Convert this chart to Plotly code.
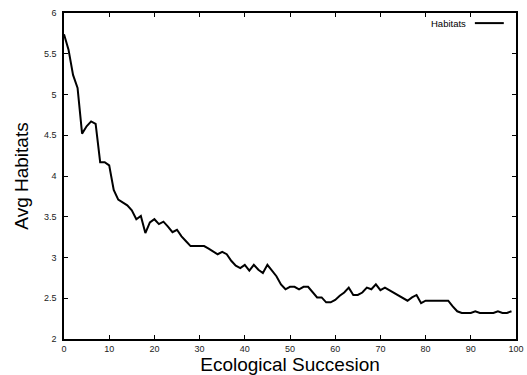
import plotly.graph_objects as go

succession = list(range(100))
avg_habitats = [
    5.74, 5.55, 5.24, 5.08, 4.52, 4.61, 4.67, 4.64, 4.17, 4.17,
    4.13, 3.83, 3.71, 3.68, 3.64, 3.58, 3.47, 3.51, 3.30, 3.43,
    3.47, 3.41, 3.44, 3.38, 3.31, 3.34, 3.26, 3.20, 3.14, 3.14,
    3.14, 3.14, 3.11, 3.08, 3.04, 3.07, 3.04, 2.96, 2.90, 2.87,
    2.91, 2.84, 2.91, 2.85, 2.81, 2.91, 2.84, 2.77, 2.67, 2.61,
    2.64, 2.64, 2.61, 2.64, 2.64, 2.57, 2.51, 2.51, 2.45, 2.45,
    2.48, 2.53, 2.57, 2.63, 2.54, 2.54, 2.57, 2.63, 2.61, 2.67,
    2.60, 2.63, 2.60, 2.57, 2.54, 2.51, 2.47, 2.51, 2.54, 2.44,
    2.47, 2.47, 2.47, 2.47, 2.47, 2.47, 2.40, 2.34, 2.32, 2.32,
    2.32, 2.34, 2.32, 2.32, 2.32, 2.32, 2.34, 2.32, 2.32, 2.34,
]
x_ticks = [0, 10, 20, 30, 40, 50, 60, 70, 80, 90, 100]
y_ticks = [2, 2.5, 3, 3.5, 4, 4.5, 5, 5.5, 6]
y_tick_labels = ["2", "2.5", "3", "3.5", "4", "4.5", "5", "5.5", "6"]

FONT = "Liberation Sans, Arial, Helvetica, sans-serif"

fig = go.Figure()
fig.add_trace(go.Scatter(
    x=succession, y=avg_habitats, mode="lines", name="Habitats",
    line=dict(color="black", width=2), showlegend=False,
))

axis_common = dict(
    showgrid=False, zeroline=False, showline=True, linecolor="black",
    linewidth=1.5, mirror="allticks", ticks="inside", ticklen=4,
    tickwidth=1, tickcolor="black", automargin=False,
    tickfont=dict(family=FONT, size=9, color="#222"),
)

fig.update_layout(
    width=527, height=375,
    margin=dict(l=64, r=11, t=13, b=36),
    plot_bgcolor="white", paper_bgcolor="white",
    xaxis=dict(range=[0, 100], tickvals=x_ticks, **axis_common,
               title=dict(text="Ecological Succesion", standoff=6,
                          font=dict(family=FONT, size=19, color="black"))),
    yaxis=dict(range=[2, 6], tickvals=y_ticks, ticktext=y_tick_labels,
               ticklabelstandoff=4, **axis_common,
               title=dict(text="Avg Habitats", standoff=10,
                          font=dict(family=FONT, size=19, color="black"))),
    annotations=[dict(
        x=0.893, y=0.969, xref="paper", yref="paper", text="Habitats",
        showarrow=False, xanchor="right", yanchor="middle",
        font=dict(family=FONT, size=9.5, color="black"),
    )],
    shapes=[dict(
        type="line", xref="paper", yref="paper",
        x0=0.909, x1=0.973, y0=0.969, y1=0.969,
        line=dict(color="black", width=2),
    )],
)

fig.write_html("out.html")
